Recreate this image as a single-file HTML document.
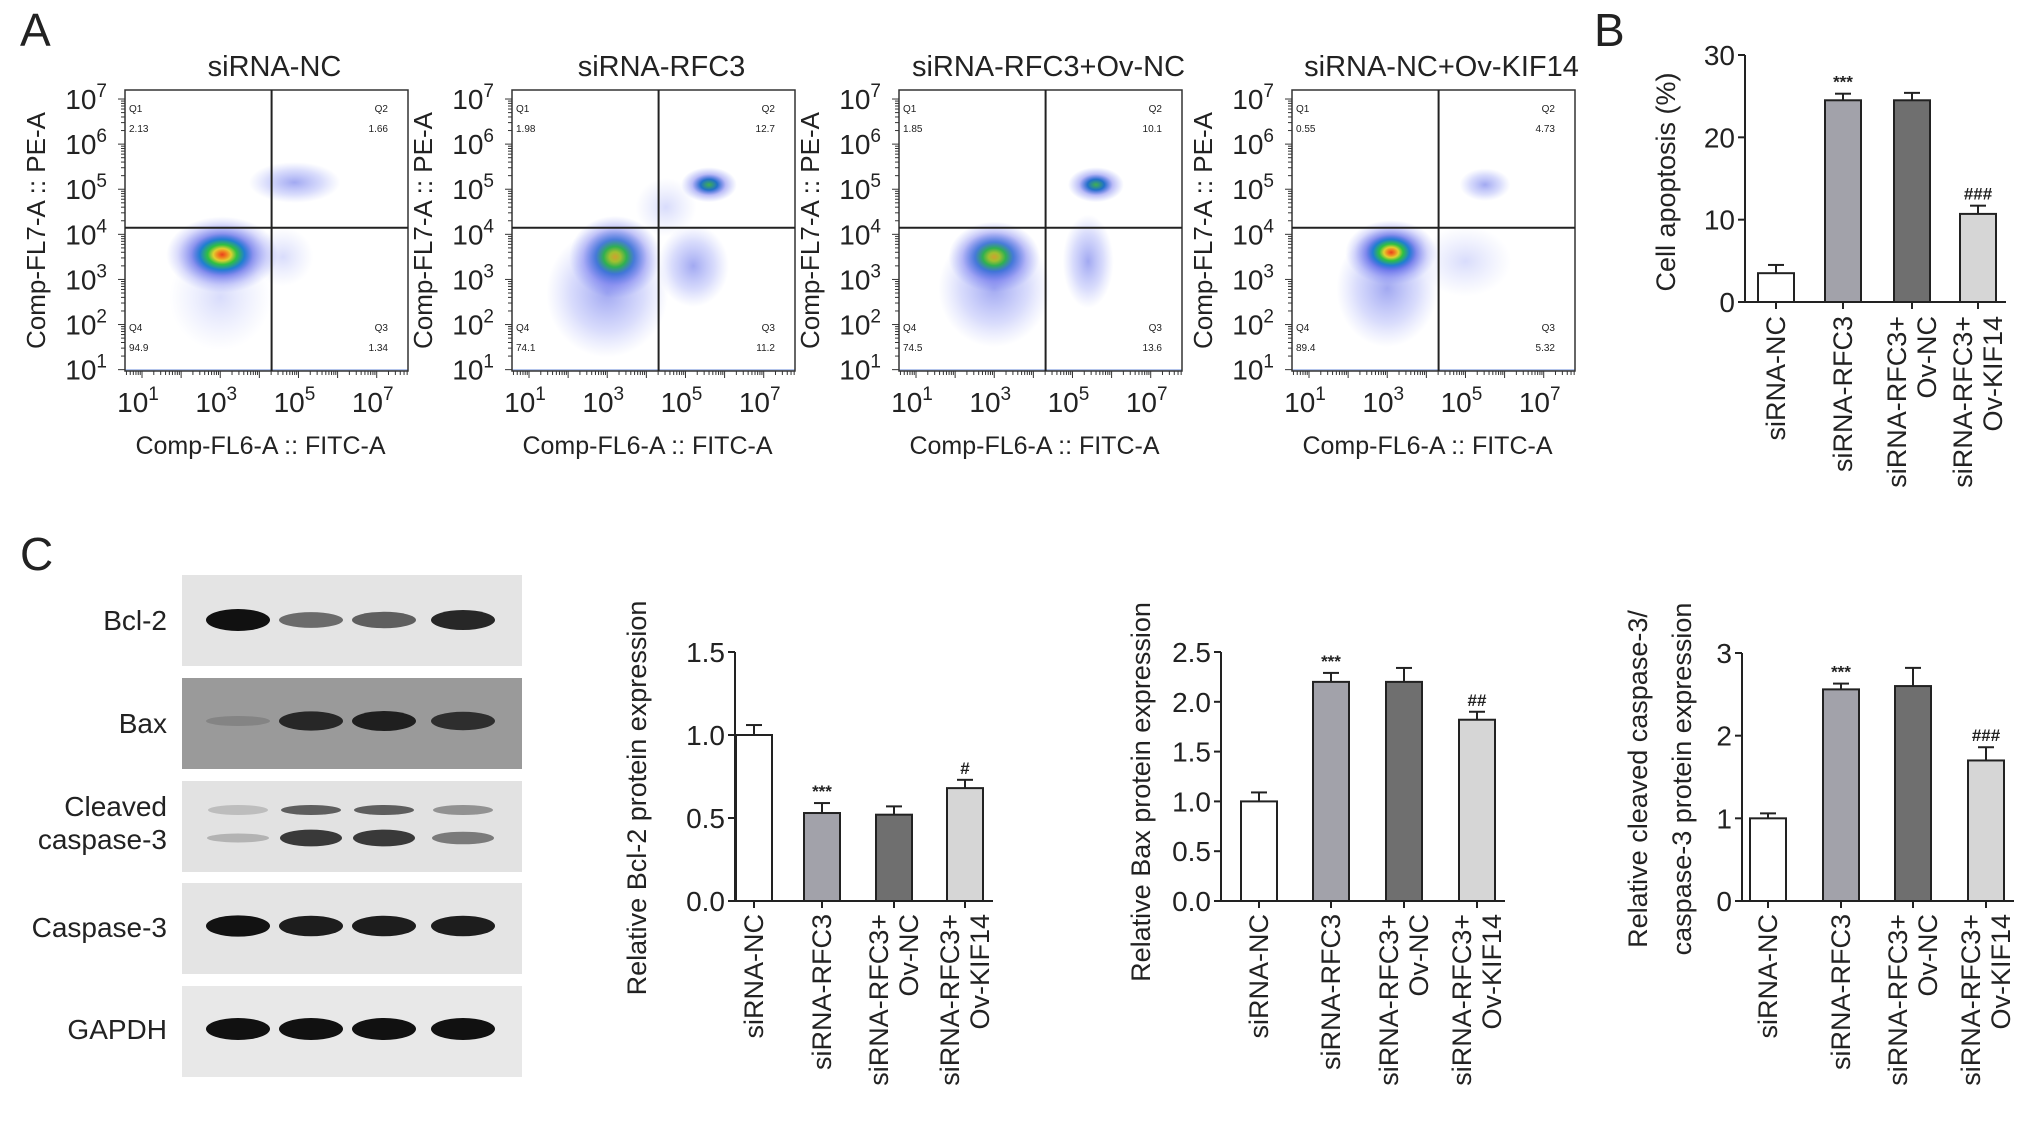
<!DOCTYPE html>
<html><head><meta charset="utf-8"><style>
html,body{margin:0;padding:0;background:#fff}
svg{display:block}
text{font-family:"Liberation Sans",Arial,sans-serif;fill:#222}
</style></head><body>
<svg id="fig" width="2032" height="1141" viewBox="0 0 2032 1141" xmlns="http://www.w3.org/2000/svg">
<defs>
<radialGradient id="gHot"><stop offset="0" stop-color="#e8401c"/><stop offset="0.08" stop-color="#f08020"/><stop offset="0.16" stop-color="#e0d030"/><stop offset="0.26" stop-color="#30c040"/><stop offset="0.4" stop-color="#1f7fd0"/><stop offset="0.55" stop-color="#2a3ae0" stop-opacity="0.55"/><stop offset="0.8" stop-color="#4a50ee" stop-opacity="0.2"/><stop offset="1" stop-color="#6070f0" stop-opacity="0"/></radialGradient>
<radialGradient id="gWarm"><stop offset="0" stop-color="#d0a030"/><stop offset="0.12" stop-color="#a0c030"/><stop offset="0.25" stop-color="#30b050"/><stop offset="0.42" stop-color="#2060d0" stop-opacity="0.8"/><stop offset="0.7" stop-color="#3a40e8" stop-opacity="0.3"/><stop offset="1" stop-color="#5060f0" stop-opacity="0"/></radialGradient>
<radialGradient id="gGreen"><stop offset="0" stop-color="#40b050"/><stop offset="0.3" stop-color="#2070c8"/><stop offset="0.6" stop-color="#3a40e8" stop-opacity="0.35"/><stop offset="1" stop-color="#5060f0" stop-opacity="0"/></radialGradient>
<radialGradient id="gBlue"><stop offset="0" stop-color="#3040e0" stop-opacity="0.45"/><stop offset="0.6" stop-color="#4050f0" stop-opacity="0.2"/><stop offset="1" stop-color="#6070f0" stop-opacity="0"/></radialGradient>
<radialGradient id="gFaint"><stop offset="0" stop-color="#5060f0" stop-opacity="0.22"/><stop offset="1" stop-color="#7080f0" stop-opacity="0"/></radialGradient>
</defs>
<g id="root"></g>
</svg>
<script>
// ---------- Flow cytometry data (log10 units) ----------
var flowTitles = ["siRNA-NC","siRNA-RFC3","siRNA-RFC3+Ov-NC","siRNA-NC+Ov-KIF14"];
var flowQ1 = ["2.13","1.98","1.85","0.55"];
var flowQ2 = ["1.66","12.7","10.1","4.73"];
var flowQ3 = ["1.34","11.2","13.6","5.32"];
var flowQ4 = ["94.9","74.1","74.5","89.4"];
var flowXTicks = [1,3,5,7];
var flowYTicks = [7,6,5,4,3,2,1];
// clusters per plot: [logX, logY, spreadX, spreadY, type]
var flowClustersNC = [[3.0,2.6,1.0,0.9,"gFaint"],[3.05,3.55,1.1,0.65,"gHot"],[4.9,5.15,0.9,0.35,"gBlue"],[4.6,3.5,0.6,0.5,"gFaint"]];
var flowClustersRFC3 = [[3.0,2.7,1.2,1.1,"gBlue"],[3.2,3.5,0.9,0.7,"gWarm"],[5.2,3.3,0.7,0.7,"gBlue"],[5.6,5.1,0.55,0.3,"gGreen"],[4.5,4.6,0.6,0.5,"gFaint"]];
var flowClustersOvNC = [[3.0,2.8,1.1,1.0,"gBlue"],[3.0,3.5,0.9,0.6,"gWarm"],[5.4,3.4,0.5,0.8,"gBlue"],[5.6,5.1,0.55,0.3,"gGreen"]];
var flowClustersKIF = [[3.0,2.8,1.0,1.0,"gBlue"],[3.1,3.6,0.9,0.55,"gHot"],[5.0,3.4,0.9,0.6,"gFaint"],[5.5,5.1,0.5,0.28,"gBlue"]];
var flowClusters = [flowClustersNC, flowClustersRFC3, flowClustersOvNC, flowClustersKIF];

// ---------- Bar chart data ----------
var categories = [["siRNA-NC"],["siRNA-RFC3"],["siRNA-RFC3+","Ov-NC"],["siRNA-RFC3+","Ov-KIF14"]];
var barFills = ["#ffffff","#a2a2aa","#6f6f6f","#d6d6d6"];
var apoptosisValues = [3.5,24.5,24.5,10.7];
var apoptosisErrors = [1.0,0.8,0.9,1.0];
var apoptosisMarks = ["","***","","###"];
var apoptosisTicks = [0,10,20,30];
var bcl2Values = [1.0,0.53,0.52,0.68];
var bcl2Errors = [0.06,0.06,0.05,0.05];
var bcl2Marks = ["","***","","#"];
var bcl2Ticks = ["0.0","0.5","1.0","1.5"];
var baxValues = [1.0,2.2,2.2,1.82];
var baxErrors = [0.09,0.09,0.14,0.08];
var baxMarks = ["","***","","##"];
var baxTicks = ["0.0","0.5","1.0","1.5","2.0","2.5"];
var caspValues = [1.0,2.56,2.6,1.7];
var caspErrors = [0.06,0.07,0.22,0.16];
var caspMarks = ["","***","","###"];
var caspTicks = ["0","1","2","3"];

var NS = "http://www.w3.org/2000/svg";
var root = document.getElementById("root");
function el(tag, attrs, parent, txt){
  var e = document.createElementNS(NS, tag);
  for (var k in attrs) e.setAttribute(k, attrs[k]);
  if (txt !== undefined) e.textContent = txt;
  (parent || root).appendChild(e);
  return e;
}

var t;
t = el("text",{x:20,y:46,"font-size":46}, root, "A");


t = el("text",{x:1594,y:46,"font-size":46}, root, "B");


t = el("text",{x:20,y:570,"font-size":46}, root, "C");



// ---------- Flow plots ----------
var boxLefts = [125,512,899,1292];
var boxW = 283, boxT = 90, boxH = 281;
var xDom = [0.565,7.8], yDom = [0.97,7.2];
for (var p=0;p<4;p++){
  var g = el("g",{});
  
  
  var L = boxLefts[p];
  var sx = (function(L){return function(v){return L + (v-xDom[0])/(xDom[1]-xDom[0])*boxW;};})(L);
  var sy = function(v){return boxT + boxH - (v-yDom[0])/(yDom[1]-yDom[0])*boxH;};
  var cp = el("clipPath",{id:"clip"+p}, g);
  el("rect",{x:L,y:boxT,width:boxW,height:boxH}, cp);
  var dg = el("g",{"clip-path":"url(#clip"+p+")"}, g);
  var cl = flowClusters[p];
  for (var c=0;c<cl.length;c++){
    var pxPerX = boxW/(xDom[1]-xDom[0]), pxPerY = boxH/(yDom[1]-yDom[0]);
    var e = el("ellipse",{cx:sx(cl[c][0]),cy:sy(cl[c][1]),rx:cl[c][2]*pxPerX*1.3,ry:cl[c][3]*pxPerY*1.3,fill:"url(#"+cl[c][4]+")"}, dg);
    
    
  }
  el("line",{x1:L,x2:L+boxW,y1:boxT+boxH-1,y2:boxT+boxH-1,stroke:"#6a8ad8","stroke-width":2,opacity:0.5}, dg);
  var bx = el("rect",{x:L,y:boxT,width:boxW,height:boxH,fill:"none",stroke:"#333","stroke-width":1.5}, g);
  
  
  var gx = L + 0.518*boxW, gy = boxT + 0.49*boxH;
  var q = el("line",{x1:gx,x2:gx,y1:boxT,y2:boxT+boxH,stroke:"#222","stroke-width":2}, g);
  
  
  q = el("line",{x1:L,x2:L+boxW,y1:gy,y2:gy,stroke:"#222","stroke-width":2}, g);
  
  
  var qs = {"font-size":10,fill:"#444"};
  el("text",Object.assign({x:L+4,y:boxT+22},qs),g,"Q1");
  el("text",Object.assign({x:L+4,y:boxT+42},qs),g,flowQ1[p]);
  el("text",Object.assign({x:L+boxW-20,y:boxT+22,"text-anchor":"end"},qs),g,"Q2");
  el("text",Object.assign({x:L+boxW-20,y:boxT+42,"text-anchor":"end"},qs),g,flowQ2[p]);
  el("text",Object.assign({x:L+4,y:boxT+boxH-40},qs),g,"Q4");
  el("text",Object.assign({x:L+4,y:boxT+boxH-20},qs),g,flowQ4[p]);
  el("text",Object.assign({x:L+boxW-20,y:boxT+boxH-40,"text-anchor":"end"},qs),g,"Q3");
  el("text",Object.assign({x:L+boxW-20,y:boxT+boxH-20,"text-anchor":"end"},qs),g,flowQ3[p]);
  for (var d=0; d<8; d++){
    for (var m=1;m<10;m++){
      var lv = d+Math.log10(m);
      if (lv>=xDom[0] && lv<=xDom[1]){
        var X = sx(lv);
        el("line",{x1:X,x2:X,y1:boxT+boxH,y2:boxT+boxH+(m==1?7:4),stroke:"#333","stroke-width":1}, g);
      }
      if (lv>=yDom[0] && lv<=yDom[1]){
        var Y = sy(lv);
        el("line",{x1:L,x2:L-(m==1?7:4),y1:Y,y2:Y,stroke:"#333","stroke-width":1}, g);
      }
    }
  }
  for (var i=0;i<flowXTicks.length;i++){
    var tt = el("text",{x:sx(flowXTicks[i])-4,y:412,"font-size":28,"text-anchor":"middle"}, g);
    el("tspan",{},tt,"10");
    el("tspan",{dy:-12,"font-size":19},tt,String(flowXTicks[i]));
    
    
  }
  for (var i=0;i<flowYTicks.length;i++){
    var tt = el("text",{x:L-18,y:sy(flowYTicks[i])+10,"font-size":28,"text-anchor":"end"}, g);
    el("tspan",{},tt,"10");
    el("tspan",{dy:-12,"font-size":19},tt,String(flowYTicks[i]));
    
    
  }
  var ti = el("text",{x:L+boxW/2+8,y:76,"font-size":29,"text-anchor":"middle"}, g, flowTitles[p]);
  
  
  var xt = el("text",{x:L+boxW/2-6,y:454,"font-size":25,"text-anchor":"middle"}, g, "Comp-FL6-A :: FITC-A");
  
  
  var yt = el("text",{x:0,y:0,"font-size":26,"text-anchor":"middle",transform:"translate("+(L-80)+","+(boxT+boxH/2)+") rotate(-90)"}, g, "Comp-FL7-A :: PE-A");
  
  
}

// ---------- Bar charts ----------
function barChart(name, axisX, y0, yTop, maxV, centers, values, errors, marks, ticks, titleLines, titleX, titleCY, labelTop){
  var g = el("g",{});
  
  
  var sy = function(v){return y0 - v/maxV*(y0-yTop);};
  var bw = 36;
  for (var i=0;i<values.length;i++){
    var x = centers[i];
    var eb = el("g",{},g);
    
    
    el("line",{x1:x,x2:x,y1:sy(values[i]),y2:sy(values[i]+errors[i]),stroke:"#222","stroke-width":2},eb);
    el("line",{x1:x-8,x2:x+8,y1:sy(values[i]+errors[i]),y2:sy(values[i]+errors[i]),stroke:"#222","stroke-width":2},eb);
    var b = el("rect",{x:x-bw/2,y:sy(values[i]),width:bw,height:y0-sy(values[i]),fill:barFills[i],stroke:"#222","stroke-width":2},g);
    
    
    if (marks[i]){
      var mk = el("text",{x:x,y:sy(values[i]+errors[i])-6,"font-size":17,"text-anchor":"middle","font-weight":"bold",fill:"#333"},g,marks[i]);
      
      
    }
    el("line",{x1:x,x2:x,y1:y0,y2:y0+7,stroke:"#222","stroke-width":2},g);
    var lines = categories[i];
    for (var k=0;k<lines.length;k++){
      var off = lines.length==1 ? 0 : (k==0?-15:15);
      var lb = el("text",{x:0,y:0,"font-size":27,"text-anchor":"end","dominant-baseline":"central",transform:"translate("+(x+off)+","+labelTop+") rotate(-90)"},g,lines[k]);
      
      
    }
  }
  var ax = el("line",{x1:axisX,x2:axisX,y1:yTop,y2:y0,stroke:"#222","stroke-width":2},g);
  
  
  var xa = el("line",{x1:axisX,x2:centers[3]+bw/2+10,y1:y0,y2:y0,stroke:"#222","stroke-width":2},g);
  
  
  for (var j=0;j<ticks.length;j++){
    var v = parseFloat(ticks[j]);
    var Y = sy(v);
    el("line",{x1:axisX-7,x2:axisX,y1:Y,y2:Y,stroke:"#222","stroke-width":2},g);
    var tl = el("text",{x:axisX-10,y:Y+10,"font-size":28,"text-anchor":"end"},g,String(ticks[j]));
    
    
  }
  for (var k=0;k<titleLines.length;k++){
    var yt = el("text",{x:0,y:0,"font-size":27,"text-anchor":"middle","dominant-baseline":"central",transform:"translate("+(titleX+k*44)+","+titleCY+") rotate(-90)"},g,titleLines[k]);
    
    
  }
}
barChart("apoptosis-chart",1745,302,55,30,[1776,1843,1912,1978],apoptosisValues,apoptosisErrors,apoptosisMarks,apoptosisTicks,["Cell apoptosis (%)"],1666,182,316);
barChart("bcl2-chart",735,901,652,1.5,[754,822,894,965],bcl2Values,bcl2Errors,bcl2Marks,bcl2Ticks,["Relative Bcl-2 protein expression"],637,798,914);
barChart("bax-chart",1221,901,652,2.5,[1259,1331,1404,1477],baxValues,baxErrors,baxMarks,baxTicks,["Relative Bax protein expression"],1141,792,914);
barChart("caspase-ratio-chart",1742,901,653,3,[1768,1841,1913,1986],caspValues,caspErrors,caspMarks,caspTicks,["Relative cleaved caspase-3/","caspase-3 protein expression"],1638,779,914);

// ---------- Western blot ----------
var blotNames = ["Bcl-2","Bax","Cleaved caspase-3","Caspase-3","GAPDH"];
var blotTops = [575,678,781,883,986];
var blotBg = ["#e4e4e4","#9a9a9a","#e2e2e2","#e4e4e4","#e8e8e8"];
var laneX = [238,311,384,463];
var bandIntensity = [[1,0.55,0.6,0.85],[0.15,0.8,0.85,0.75],[0.25,0.9,0.9,0.55],[0.95,0.9,0.9,0.9],[1,1,1,1]];
var gb = el("g",{});


for (var r=0;r<5;r++){
  var s = el("rect",{x:182,y:blotTops[r],width:340,height:91,fill:blotBg[r]},gb);
  
  
  var cy = blotTops[r]+45;
  for (var l=0;l<4;l++){
    var a = bandIntensity[r][l];
    if (r==2){
      el("ellipse",{cx:laneX[l],cy:cy-16,rx:30,ry:5,fill:"#111",opacity:a*0.7},gb);
      el("ellipse",{cx:laneX[l],cy:cy+12,rx:31,ry:6*a+3,fill:"#111",opacity:a*0.9},gb);
    } else {
      var bd = el("ellipse",{cx:laneX[l],cy:cy-(r==0?0:2),rx:32,ry:4+7*a,fill:"#111",opacity:Math.min(1,a*1.05)},gb);
      
      
    }
  }
}
var blotLabelY = [[630],[733],[816,849],[937],[1039]];
var blotLabelTxt = [["Bcl-2"],["Bax"],["Cleaved","caspase-3"],["Caspase-3"],["GAPDH"]];
for (var r=0;r<5;r++){
  for (var k=0;k<blotLabelTxt[r].length;k++){
    var lt = el("text",{x:167,y:blotLabelY[r][k],"font-size":28,"text-anchor":"end"},gb,blotLabelTxt[r][k]);
    
    
  }
}
</script>
</body></html>
